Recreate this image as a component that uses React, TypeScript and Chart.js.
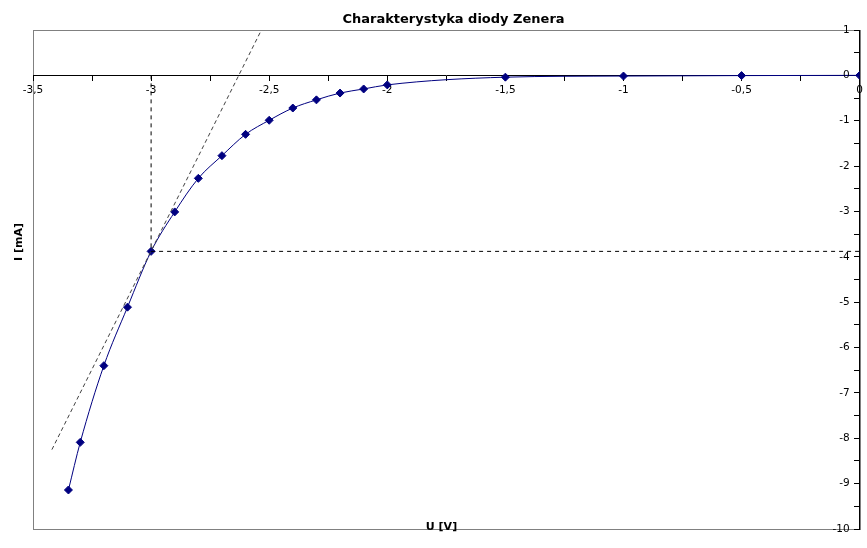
import React, { useEffect, useRef } from "react";
import { Chart, registerables } from "chart.js";

Chart.register(...registerables);

// Measured characteristic of the Zener diode
const voltageU = [-3.35, -3.3, -3.2, -3.1, -3.0, -2.9, -2.8, -2.7, -2.6, -2.5, -2.4, -2.3, -2.2, -2.1, -2.0, -1.5, -1.0, -0.5, 0];
const currentI = [-9.14, -8.09, -6.4, -5.11, -3.88, -3.01, -2.27, -1.77, -1.3, -0.99, -0.72, -0.54, -0.39, -0.3, -0.21, -0.04, -0.015, -0.005, 0];

// Tangent (dashed) line end points
const tangentU = [-3.42, -2.533];
const tangentI = [-8.25, 1];

// Zener voltage guide lines (vertical then horizontal)
const guideU = [-3.0, -3.0, 0];
const guideI = [0, -3.88, -3.88];

const titleText = "Charakterystyka diody Zenera";
const xTitle = "U [V]";
const yTitle = "I [mA]";

const FONT = "'DejaVu Sans', 'Liberation Sans', sans-serif";

const fmt = (v: number) => {
  const r = Math.round(v * 100) / 100;
  return String(r).replace(".", ",");
};

export default function App() {
  const ref = useRef<HTMLCanvasElement | null>(null);

  useEffect(() => {
    document.body.style.margin = "0";
    const canvas = ref.current;
    if (!canvas) return;

    const framePlugin = {
      id: "frame",
      beforeDraw(chart: any) {
        const { ctx, chartArea } = chart;
        ctx.save();
        ctx.strokeStyle = "#808080";
        ctx.lineWidth = 1;
        ctx.strokeRect(
          Math.round(chartArea.left) + 0.5,
          Math.round(chartArea.top) + 0.5,
          Math.round(chartArea.right - chartArea.left),
          Math.round(chartArea.bottom - chartArea.top)
        );
        ctx.restore();
      },
      afterDraw(chart: any) {
        const { ctx, chartArea } = chart;
        const yScale = chart.scales.y;
        const xScale = chart.scales.x;
        ctx.save();
        ctx.fillStyle = "#000";
        // y tick labels, left of the axis placed at x = 0
        ctx.font = `10.5px ${FONT}`;
        ctx.textAlign = "right";
        ctx.textBaseline = "middle";
        const axisX = xScale.getPixelForValue(0);
        yScale.ticks.forEach((t: any) => {
          const n = Number(t.value);
          if (Math.abs(Math.round(n * 2)) % 2 !== 0) return;
          ctx.fillText(fmt(n), axisX - 10, yScale.getPixelForValue(n));
        });
        // titles
        ctx.textAlign = "center";
        ctx.font = `bold 13px ${FONT}`;
        ctx.fillText(titleText, 453.5, 20);
        ctx.font = `bold 11px ${FONT}`;
        ctx.fillText(xTitle, 441.5, chartArea.bottom - 2);
        ctx.translate(19, 242);
        ctx.rotate(-Math.PI / 2);
        ctx.fillText(yTitle, 0, 0);
        ctx.restore();
      },
    };

    const chart = new Chart(canvas, {
      type: "scatter",
      data: {
        datasets: [
          {
            label: "guide",
            data: guideU.map((u, i) => ({ x: u, y: guideI[i] })),
            showLine: true,
            borderColor: "#000000",
            borderWidth: 1,
            borderDash: [4, 4],
            pointRadius: 0,
            tension: 0,
          },
          {
            label: "tangent",
            data: tangentU.map((u, i) => ({ x: u, y: tangentI[i] })),
            showLine: true,
            borderColor: "#404040",
            borderWidth: 1,
            borderDash: [4, 3],
            pointRadius: 0,
            tension: 0,
          },
          {
            label: "I(U)",
            data: voltageU.map((u, i) => ({ x: u, y: currentI[i] })),
            showLine: true,
            borderColor: "#000080",
            backgroundColor: "#000080",
            borderWidth: 1,
            pointStyle: "rectRot",
            pointRadius: 4,
            pointBorderWidth: 1,
            pointBorderColor: "#000080",
            pointBackgroundColor: "#000080",
            cubicInterpolationMode: "monotone",
          },
        ],
      },
      options: {
        animation: false,
        responsive: true,
        maintainAspectRatio: false,
        layout: { padding: { left: 33, right: 5, top: 30, bottom: 19 } },
        plugins: {
          legend: { display: false },
          title: { display: false },
          tooltip: { enabled: false },
        },
        scales: {
          x: {
            type: "linear",
            position: { y: 0 } as any,
            min: -3.5,
            max: 0,
            grid: {
              drawOnChartArea: false,
              drawTicks: true,
              tickLength: 5,
              color: "#000000",
            },
            border: { display: true, color: "#000000", width: 1 },
            ticks: {
              stepSize: 0.25,
              autoSkip: false,
              maxRotation: 0,
              padding: 4,
              color: "#000000",
              font: { family: FONT, size: 10.5 },
              callback: (v: any) => {
                const n = Number(v);
                return Math.abs(Math.round(n * 4)) % 2 === 0 ? fmt(n) : "";
              },
            },
          },
          y: {
            type: "linear",
            position: { x: 0 } as any,
            min: -10,
            max: 1,
            grid: {
              drawOnChartArea: false,
              drawTicks: true,
              tickLength: 5,
              color: "#000000",
            },
            border: { display: true, color: "#000000", width: 1 },
            ticks: {
              display: false,
              stepSize: 0.5,
              autoSkip: false,
            },
          },
        },
      } as any,
      plugins: [framePlugin],
    });

    return () => chart.destroy();
  }, []);

  return (
    <div style={{ width: 867, height: 548, position: "relative", background: "#fff" }}>
      <canvas ref={ref} />
    </div>
  );
}
